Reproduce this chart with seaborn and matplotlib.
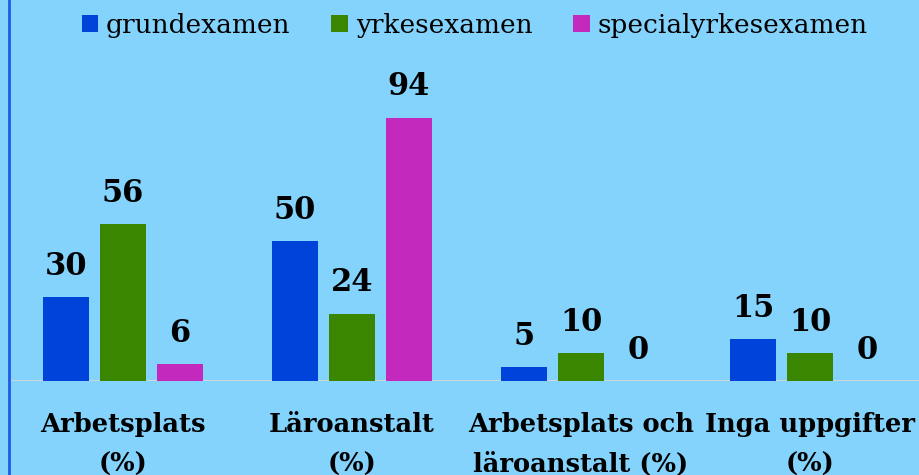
import pandas as pd
import seaborn as sns
import matplotlib.pyplot as plt
from matplotlib.lines import Line2D

# data
categories = ['Arbetsplats\n(%)', 'Läroanstalt\n(%)', 'Arbetsplats och\nläroanstalt (%)', 'Inga uppgifter\n(%)']
series = ['grundexamen', 'yrkesexamen', 'specialyrkesexamen']
grundexamen = [30, 50, 5, 15]
yrkesexamen = [56, 24, 10, 10]
specialyrkesexamen = [6, 94, 0, 0]
colors = ['#0043DB', '#3A8600', '#C229BC']

df = pd.DataFrame({
    'Kategori': categories * 3,
    'Examen': [s for s in series for _ in categories],
    'Andel': grundexamen + yrkesexamen + specialyrkesexamen,
})

sns.set_theme(style='white')
plt.rcParams['font.family'] = ['DejaVu Serif']
plt.rcParams['text.color'] = 'black'
plt.rcParams['xtick.color'] = 'black'

bg = '#83D3FD'
fig = plt.figure(figsize=(9.2, 4.75), dpi=100, facecolor=bg)
ax = fig.add_axes([8.5 / 920, 94 / 475, 916 / 920, 321 / 475])
ax.set_facecolor(bg)

sns.barplot(data=df, x='Kategori', y='Andel', hue='Examen', palette=colors,
            width=0.747, gap=0.19, saturation=1, ax=ax, edgecolor='none')

for c in ax.containers:
    ax.bar_label(c, padding=11, fontsize=22, fontweight='bold', color='black')

ax.set_xlim(-0.5, 3.5)
ax.set_ylim(0, 114.6)
ax.axhline(0, color='#D8D8D8', lw=2, zorder=0.5)
ax.set_yticks([])
ax.set_xlabel('')
ax.set_ylabel('')
ax.tick_params(axis='x', length=0, pad=22)
for lbl in ax.get_xticklabels():
    lbl.set_fontsize(18.5)
    lbl.set_fontweight('bold')
    lbl.set_color('black')
    lbl.set_linespacing(1.75)
for s in ax.spines.values():
    s.set_visible(False)

h, l = ax.get_legend_handles_labels()
ax.get_legend().remove()
leg = fig.legend(h, l, loc='center', bbox_to_anchor=(0.516, 1 - 25 / 475), ncol=3,
                 frameon=False, fontsize=19, handlelength=0.62, handleheight=0.62,
                 handletextpad=0.3, columnspacing=1.55)
for t in leg.get_texts():
    t.set_color('black')

fig.add_artist(Line2D([8.5 / 920, 8.5 / 920], [0, 1], color='#1F5BE8', lw=2,
                      transform=fig.transFigure))

fig.savefig('out.png', dpi=100, facecolor=bg)
